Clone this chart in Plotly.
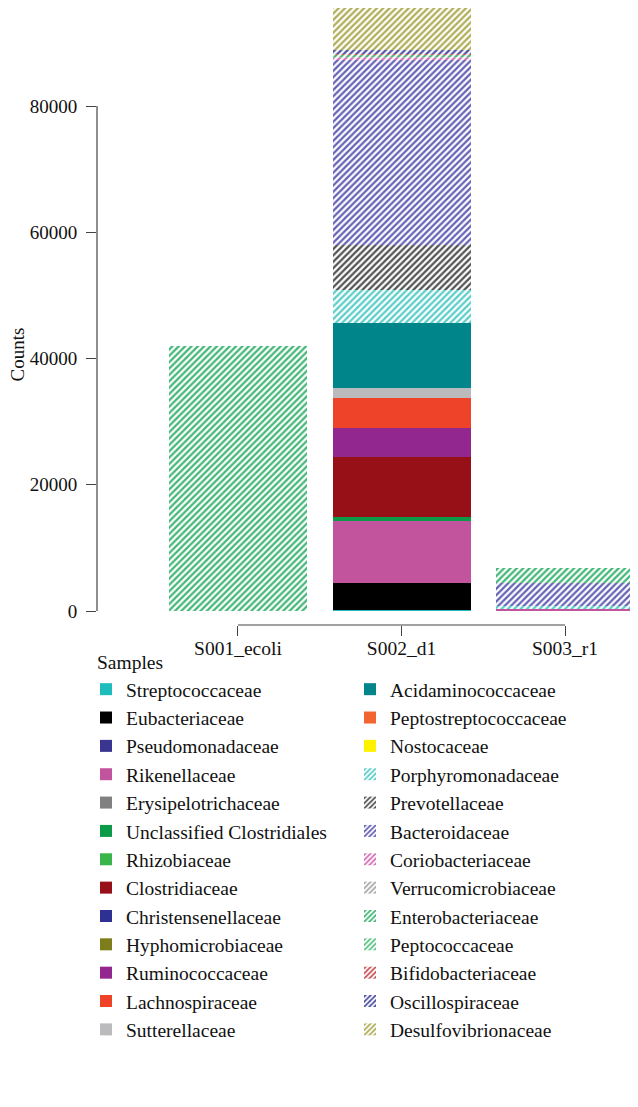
import plotly.graph_objects as go

samples = ["S001_ecoli", "S002_d1", "S003_r1"]

families = [
    "Streptococcaceae", "Eubacteriaceae", "Pseudomonadaceae", "Rikenellaceae",
    "Erysipelotrichaceae", "Unclassified Clostridiales", "Rhizobiaceae",
    "Clostridiaceae", "Christensenellaceae", "Hyphomicrobiaceae",
    "Ruminococcaceae", "Lachnospiraceae", "Sutterellaceae",
    "Acidaminococcaceae", "Peptostreptococcaceae", "Nostocaceae",
    "Porphyromonadaceae", "Prevotellaceae", "Bacteroidaceae",
    "Coriobacteriaceae", "Verrucomicrobiaceae", "Enterobacteriaceae",
    "Peptococcaceae", "Bifidobacteriaceae", "Oscillospiraceae",
    "Desulfovibrionaceae",
]

colors = [
    "#1EBDBC", "#000000", "#3A3591", "#C1549C", "#808080", "#0C9A48",
    "#39B54A", "#970F17", "#2E3192", "#7D7D1B", "#92278F", "#EE4328",
    "#BBBBBD", "#00868A", "#F26531", "#FFF200", "#3CC4BE", "#333333",
    "#4A45A8", "#D052A6", "#999999", "#22AA60", "#3BB86B", "#BB3438",
    "#2E3192", "#A0A03A",
]

hatched = [False] * 16 + [True] * 10

s001_counts = [0, 0, 0, 0, 0, 0, 0, 0, 0, 0, 0, 0, 0,
               0, 0, 0, 0, 0, 0, 0, 0, 42000, 0, 0, 0, 0]
s002_counts = [200, 4300, 0, 9800, 0, 650, 0, 9400, 0, 0, 4600, 4750, 1550,
               10450, 0, 0, 5200, 7100, 29300, 400, 200, 300, 0, 100, 500, 8400]
s003_counts = [0, 0, 0, 250, 0, 0, 0, 0, 0, 0, 0, 0, 0,
               0, 0, 0, 500, 0, 3700, 0, 0, 2300, 0, 0, 0, 0]

y_ticks = [0, 20000, 40000, 60000, 80000]

FONT = "Liberation Serif"
TXT = "#111111"
AX = "#444444"

fig = go.Figure()
for i, name in enumerate(families):
    marker = dict(color=colors[i], line=dict(width=0))
    if hatched[i]:
        marker["pattern"] = dict(shape="/", fgcolor=colors[i], bgcolor="white",
                                 fgopacity=0.85, size=4.5, solidity=0.5)
    fig.add_trace(go.Bar(
        x=samples,
        y=[s001_counts[i], s002_counts[i], s003_counts[i]],
        name=name,
        marker=marker,
        width=0.844,
        legend="legend" if i < 13 else "legend2",
    ))

# page body adds an 8px offset; figure sized to fit the window
W, H = 630, 1099
L, R, T, B = 89, 0, 0, 482
plot_h = H - T - B
plot_w = W - L - R


def py(px):
    return (H - B - px) / plot_h


def pxx(px):
    return (px - L) / plot_w


legend_font = dict(family=FONT, size=19.5, color=TXT)

fig.update_layout(
    width=W, height=H,
    margin=dict(l=L, r=R, t=T, b=B, pad=0),
    barmode="stack",
    bargap=0,
    plot_bgcolor="white",
    paper_bgcolor="white",
    font=dict(family=FONT, size=19, color=TXT),
    xaxis=dict(
        type="category",
        range=[-0.862, 2.446],
        showline=False, showgrid=False, zeroline=False,
        ticks="outside", ticklen=10, tickcolor=AX, tickwidth=1.2,
        ticklabelstandoff=-4,
        tickfont=dict(family=FONT, size=19.5, color=TXT),
    ),
    yaxis=dict(
        range=[-2218, 95525],
        tickvals=y_ticks,
        ticktext=[str(v) for v in y_ticks],
        showline=False, showgrid=False, zeroline=False,
        ticks="outside", ticklen=10, tickcolor=AX, tickwidth=1.2,
        ticklabelstandoff=5,
        tickfont=dict(family=FONT, size=19, color=TXT),
    ),
    legend=dict(
        x=pxx(78), xanchor="left",
        y=py(662), yanchor="top",
        traceorder="normal",
        font=legend_font,
        bgcolor="rgba(0,0,0,0)",
    ),
    legend2=dict(
        x=pxx(342), xanchor="left",
        y=py(662), yanchor="top",
        traceorder="normal",
        font=legend_font,
        bgcolor="rgba(0,0,0,0)",
    ),
    annotations=[
        dict(
            text="Counts", textangle=-90,
            x=pxx(-3), y=py(347), xref="paper", yref="paper",
            xanchor="left", yanchor="middle", showarrow=False,
            font=dict(family=FONT, size=19, color=TXT),
        ),
        dict(
            text="Samples",
            x=pxx(87), y=py(654), xref="paper", yref="paper",
            xanchor="left", yanchor="middle", showarrow=False,
            font=legend_font,
        ),
    ],
    shapes=[
        dict(type="line", xref="x", yref="paper",
             x0=samples[0], x1=samples[-1], y0=0, y1=0,
             line=dict(color=AX, width=1.2)),
        dict(type="line", xref="paper", yref="y",
             x0=0, x1=0, y0=y_ticks[0], y1=y_ticks[-1],
             line=dict(color=AX, width=1.2)),
    ],
)

fig.write_html("out.html")
